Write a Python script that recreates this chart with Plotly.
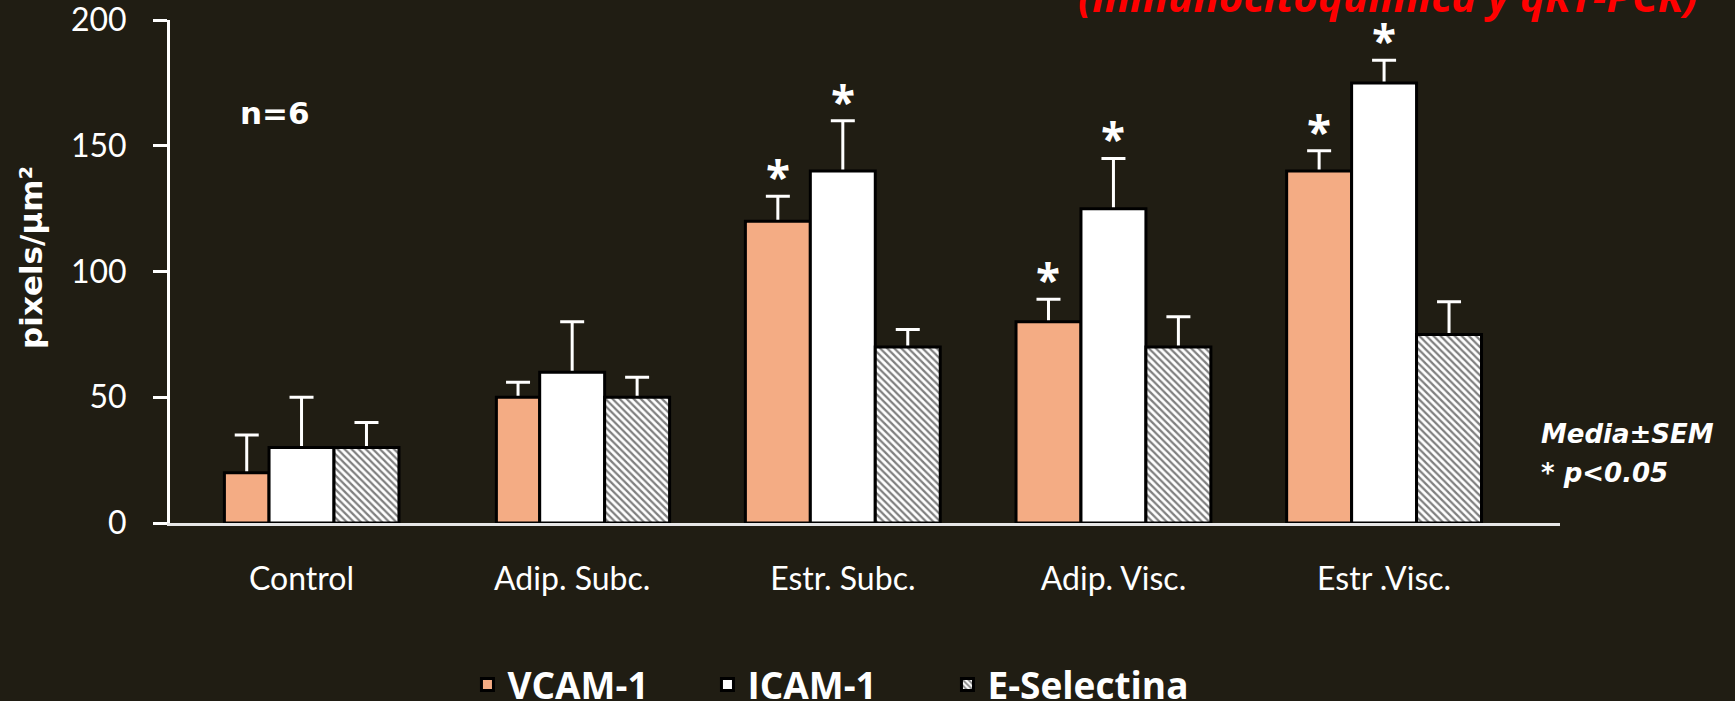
import plotly.graph_objects as go

# Expression of adhesion molecules by tissue (mean ± SEM)
categories = ["Control", "Adip. Subc.", "Estr. Subc.", "Adip. Visc.", "Estr .Visc."]

vcam = [20, 50, 120, 80, 140]
vcam_sem = [15, 6, 10, 9, 8]
vcam_sig = [False, False, True, True, True]

icam = [30, 60, 140, 125, 175]
icam_sem = [20, 20, 20, 20, 9]
icam_sig = [False, False, True, True, True]

esel = [30, 50, 70, 70, 75]
esel_sem = [10, 8, 7, 12, 13]
esel_sig = [False, False, False, False, False]

y_ticks = [0, 50, 100, 150, 200]

BG = "#201D13"
BAR_W = 0.24
# bar widths in category units (the first two VCAM-1 bars are drawn narrower)
vcam_widths = [0.165, 0.16, BAR_W, BAR_W, BAR_W]
full_widths = [BAR_W] * len(categories)

series = [
    dict(name="VCAM-1", y=vcam, sem=vcam_sem, sig=vcam_sig, color="#F4AC84", pattern=None,
         widths=vcam_widths, slot=-1),
    dict(name="ICAM-1", y=icam, sem=icam_sem, sig=icam_sig, color="#FFFFFF", pattern=None,
         widths=full_widths, slot=0),
    dict(name="E-Selectina", y=esel, sem=esel_sem, sig=esel_sig, color="#FFFFFF",
         pattern=dict(shape="\\", fgcolor="#000000", bgcolor="#FFFFFF", size=5, solidity=0.45),
         widths=full_widths, slot=1),
]

fig = go.Figure()
annotations = []
for s in series:
    # bars sit side by side around the category centre, the middle one centred on it
    if s["slot"] < 0:
        offsets = [-BAR_W / 2 - w for w in s["widths"]]
    elif s["slot"] == 0:
        offsets = [-w / 2 for w in s["widths"]]
    else:
        offsets = [BAR_W / 2 for _ in s["widths"]]
    # error bars carried by a transparent bar underneath, so the stem is hidden by the bar
    fig.add_trace(go.Bar(
        x=categories, y=s["y"], offset=offsets, width=s["widths"],
        marker=dict(color="rgba(0,0,0,0)", line=dict(width=0)),
        error_y=dict(type="data", symmetric=False, array=s["sem"], arrayminus=s["y"],
                     color="#FFFFFF", thickness=3, width=12),
        showlegend=False, hoverinfo="skip",
    ))
    marker = dict(color=s["color"], line=dict(color="#000000", width=3))
    if s["pattern"]:
        marker["pattern"] = s["pattern"]
    fig.add_trace(go.Bar(
        x=categories, y=s["y"], offset=offsets, width=s["widths"], name=s["name"], marker=marker,
    ))
    for k, flag in enumerate(s["sig"]):
        if flag:
            annotations.append(dict(
                x=k + offsets[k] + s["widths"][k] / 2, y=s["y"][k] + s["sem"][k],
                xref="x", yref="y", text="*", showarrow=False,
                xanchor="center", yanchor="middle", yshift=20,
                font=dict(family="Open Sans", size=44, color="#FFFFFF", weight="bold"),
            ))

annotations += [
    dict(text="n=6", x=0.0755, y=0.816, xref="paper", yref="paper", showarrow=False,
         xanchor="center", yanchor="middle",
         font=dict(family="DejaVu Sans", size=31, color="#FFFFFF", weight="bold")),
    dict(text="pixels/μm²", x=-0.1, y=0.527, xref="paper", yref="paper", showarrow=False,
         xanchor="center", yanchor="middle", textangle=-90,
         font=dict(family="DejaVu Sans", size=31, color="#FFFFFF", weight="bold")),
    dict(text="Media±SEM", x=0.985, y=0.176, xref="paper", yref="paper", showarrow=False,
         xanchor="left", yanchor="middle",
         font=dict(family="DejaVu Sans", size=26, color="#FFFFFF", weight="bold", style="italic")),
    dict(text="* p<0.05", x=0.985, y=0.099, xref="paper", yref="paper", showarrow=False,
         xanchor="left", yanchor="middle",
         font=dict(family="DejaVu Sans", size=26, color="#FFFFFF", weight="bold", style="italic")),
    dict(text="(inmunocitoquímica y qRT-PCR)", x=1.1007, y=0.988, xref="paper", yref="paper",
         showarrow=False, xanchor="right", yanchor="bottom",
         font=dict(family="Open Sans", size=42, color="#FF0000", weight="bold", style="italic")),
]

fig.update_layout(
    width=1735, height=701,
    paper_bgcolor=BG, plot_bgcolor=BG,
    margin=dict(l=170, r=175, t=20, b=178),
    barmode="overlay",
    showlegend=True,
    legend=dict(orientation="h", x=0.214, xanchor="left", xref="paper",
                y=0.067, yanchor="top", yref="container",
                font=dict(family="Open Sans", size=37, color="#FFFFFF", weight="bold"),
                bgcolor="rgba(0,0,0,0)", itemwidth=30, entrywidth=195),
    annotations=annotations,
    xaxis=dict(type="category", range=[-0.486, 4.65], showline=True, linecolor="#E6E6E6",
               linewidth=3, ticks="", showgrid=False, zeroline=False, automargin=False,
               tickfont=dict(family="Lato", size=32, color="#FFFFFF"), ticklabelstandoff=26),
    yaxis=dict(range=[0, 200.05], tickvals=y_ticks, ticks="outside", ticklen=14, tickwidth=3,
               tickcolor="#FFFFFF", showline=True, linecolor="#FFFFFF", linewidth=3,
               showgrid=False, zeroline=False, ticklabeloverflow="allow", automargin=False,
               tickfont=dict(family="Lato", size=32, color="#FFFFFF"), ticklabelstandoff=20),
)

fig.write_html("out.html")
